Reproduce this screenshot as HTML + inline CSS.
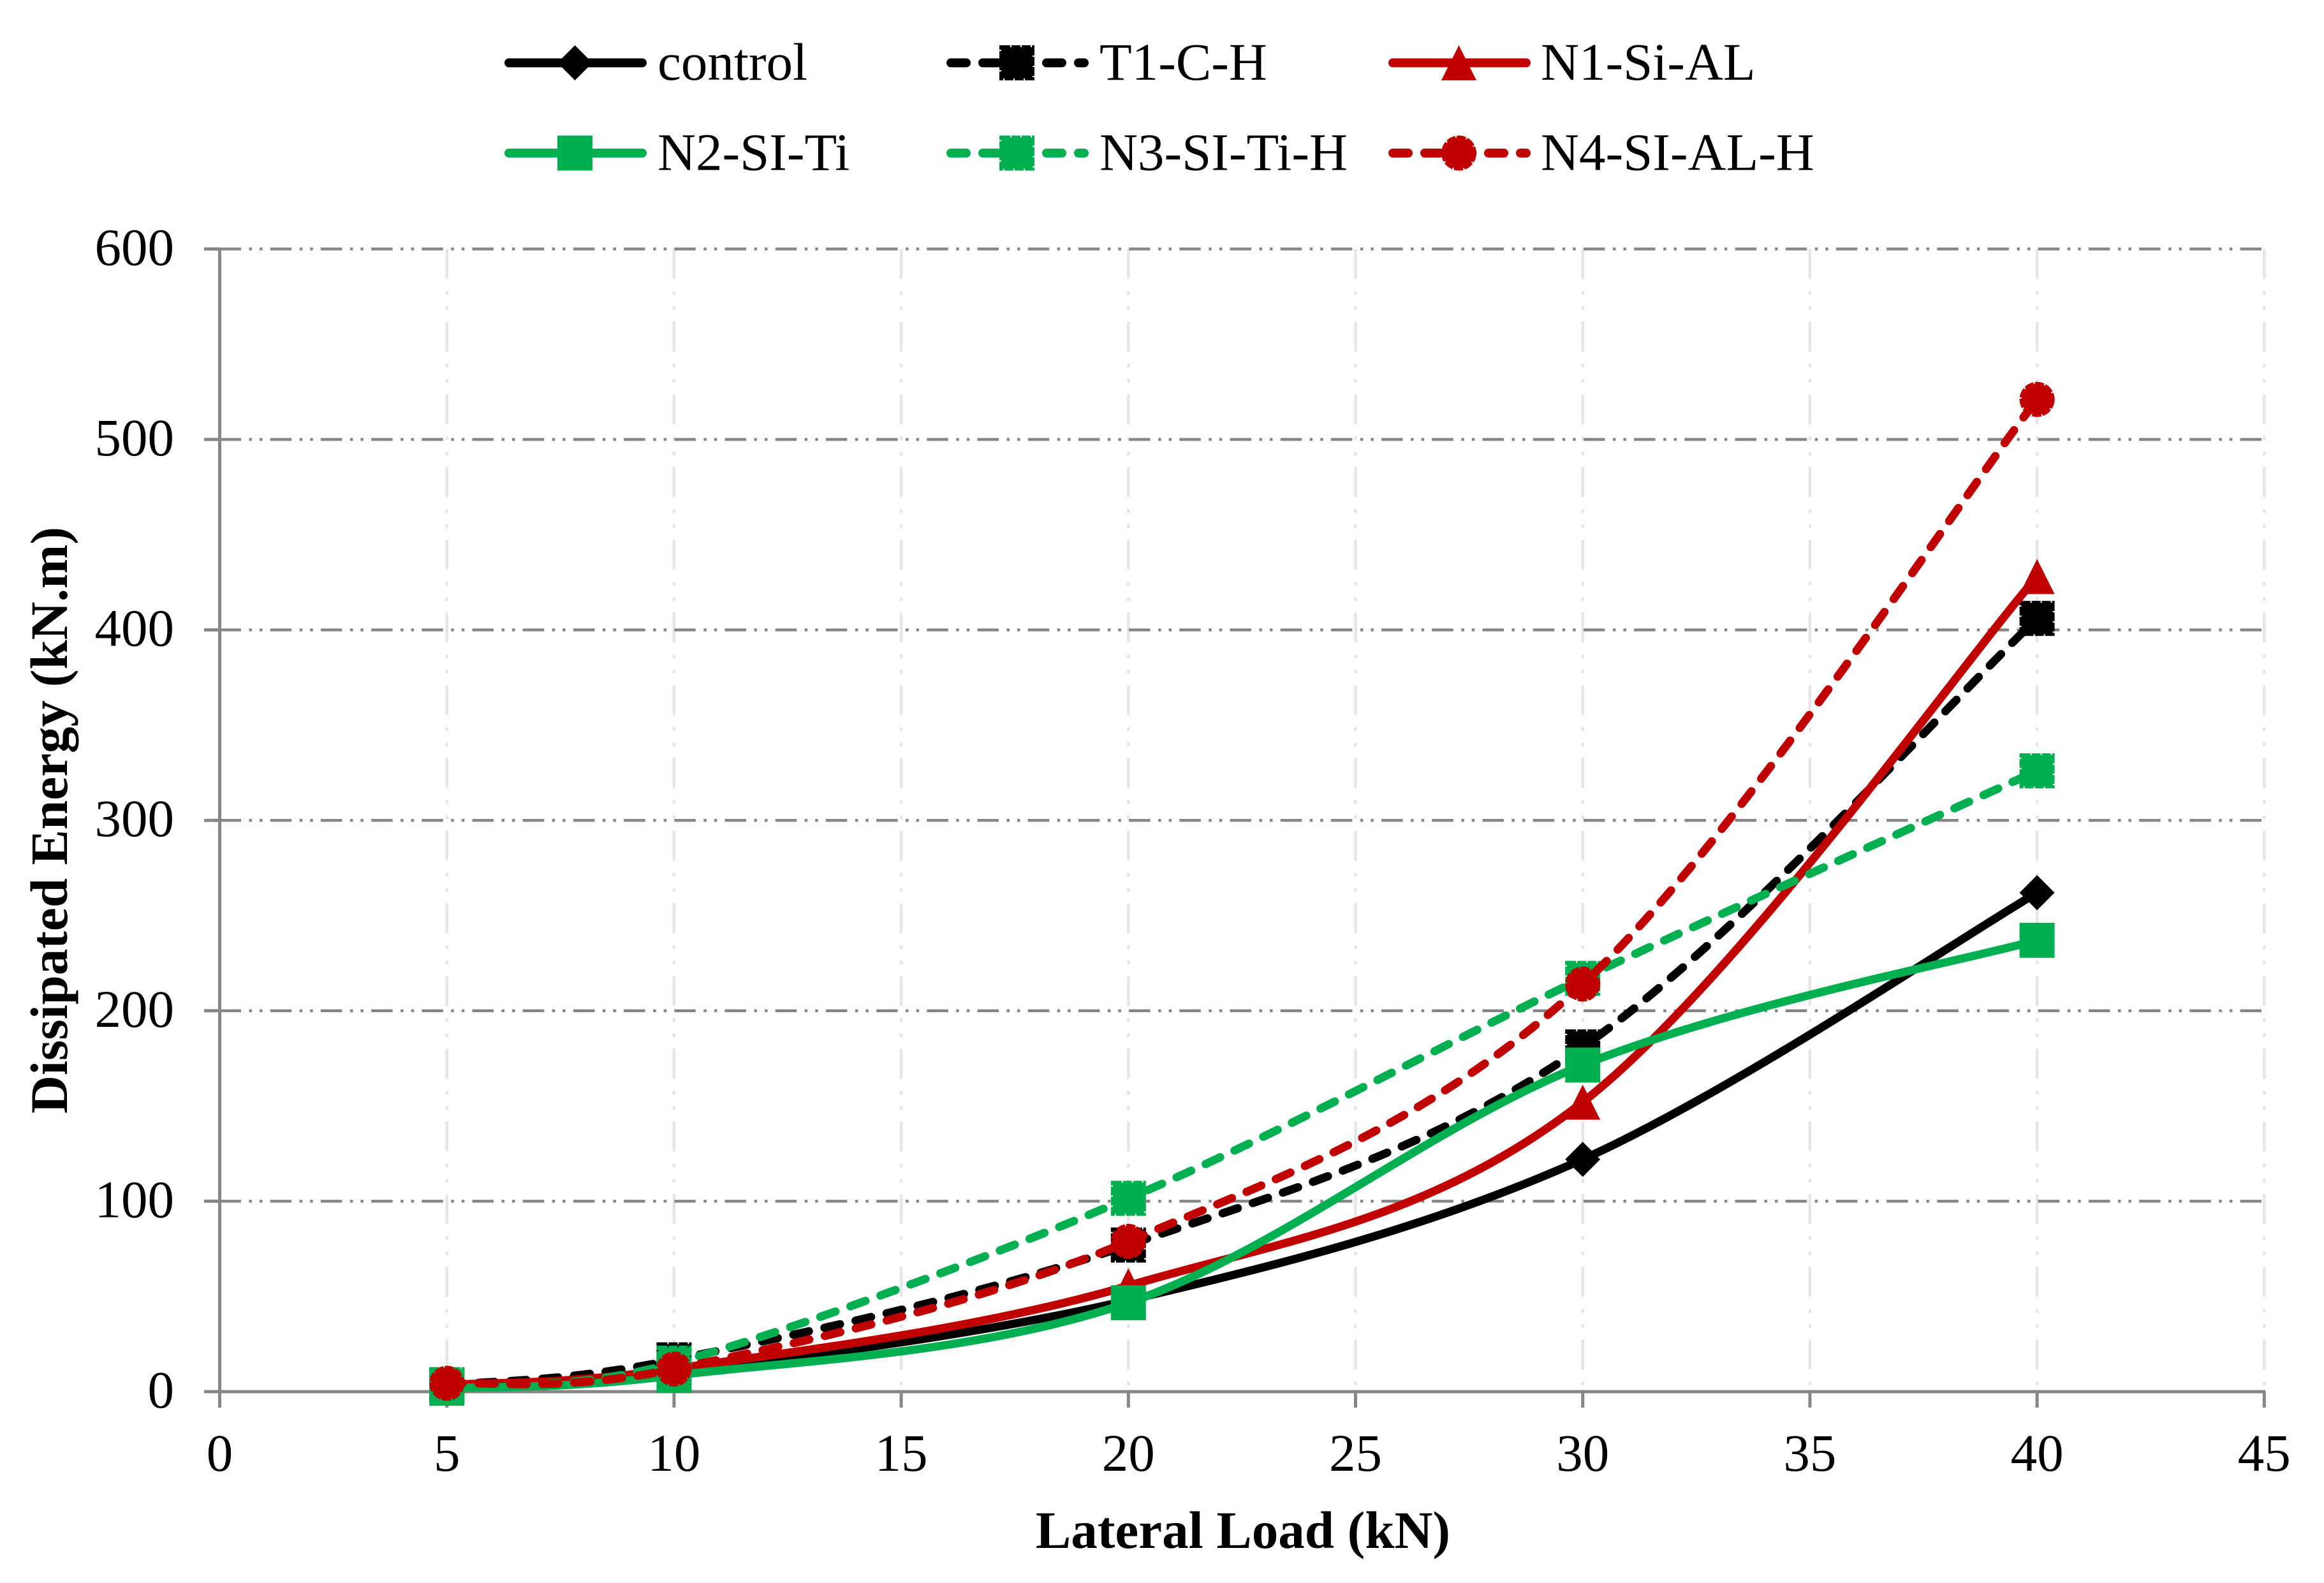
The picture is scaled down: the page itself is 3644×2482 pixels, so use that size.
<!DOCTYPE html>
<html lang="en">
<head>
<meta charset="utf-8">
<title>Dissipated Energy vs Lateral Load</title>
<style>
html,body{margin:0;padding:0;background:#fff;width:3644px;height:2482px;overflow:hidden}
svg{display:block}
text{font-family:"Liberation Serif","Times New Roman",serif;fill:#000}
</style>
</head>
<body>
<svg id="chart" xmlns="http://www.w3.org/2000/svg" width="3644" height="2482" viewBox="0 0 3644 2482">
<rect x="0" y="0" width="3644" height="2482" fill="#ffffff"/>
<g id="grid"></g>
<g id="axes"></g>
<g id="series"></g>
<g id="legend"></g>
<text x="1949" y="2427" text-anchor="middle" font-size="83" font-weight="bold">Lateral Load (kN)</text>
<text transform="translate(105,1286) rotate(-90)" text-anchor="middle" font-size="83" font-weight="bold">Dissipated Energy (kN.m)</text>
</svg>
<script>
const categories = [5, 10, 20, 30, 40];
const controlValues = [3, 10, 48, 122, 262];
const t1Values = [3.5, 16.7, 77, 181, 406];
const n1Values = [3.5, 12, 55.6, 152, 428];
const n2Values = [1.8, 8.5, 46.7, 171.5, 237];
const n3Values = [3.7, 15, 101.5, 217, 326];
const n4Values = [4.4, 11.9, 78.9, 214, 521];
const xTickLabels = [0, 5, 10, 15, 20, 25, 30, 35, 40, 45];
const yTickLabels = [0, 100, 200, 300, 400, 500, 600];
const seriesNames = ['control', 'T1-C-H', 'N1-Si-AL', 'N2-SI-Ti', 'N3-SI-Ti-H', 'N4-SI-AL-H'];

const NS = 'http://www.w3.org/2000/svg';
const X0 = 344.5, XPX = 71.24, Y0 = 2182, YPX = 2.986;
const xScale = v => X0 + v * XPX;
const yScale = v => Y0 - v * YPX;
const seriesValues = [controlValues, t1Values, n1Values, n2Values, n3Values, n4Values];
const seriesColors = ['#000000', '#000000', '#c00000', '#00b050', '#00b050', '#c00000'];
const seriesDashed = [false, true, false, false, true, true];
const seriesMarkers = ['diamond', 'square', 'triangle', 'square', 'square', 'circle'];
const legendLineX = [791, 1484, 2177, 791, 1484, 2177];
const legendTextX = [1031, 1724, 2416, 1031, 1724, 2416];
const legendRowY = [98.5, 98.5, 98.5, 240, 240, 240];
const LINE_W = 13, MARK = 55, AXIS = '#868686';

function el(tag, parent) {
  const e = document.createElementNS(NS, tag);
  parent.appendChild(e);
  return e;
}

function smoothPath(pts) {
  let d = 'M' + pts[0][0].toFixed(1) + ' ' + pts[0][1].toFixed(1);
  for (let i = 0; i < pts.length - 1; i++) {
    const p0 = pts[Math.max(i - 1, 0)], p1 = pts[i], p2 = pts[i + 1], p3 = pts[Math.min(i + 2, pts.length - 1)];
    const c1x = p1[0] + (p2[0] - p0[0]) / 6, c1y = p1[1] + (p2[1] - p0[1]) / 6;
    const c2x = p2[0] - (p3[0] - p1[0]) / 6, c2y = p2[1] - (p3[1] - p1[1]) / 6;
    d += 'C' + c1x.toFixed(1) + ' ' + c1y.toFixed(1) + ' ' + c2x.toFixed(1) + ' ' + c2y.toFixed(1) + ' ' + p2[0].toFixed(1) + ' ' + p2[1].toFixed(1);
  }
  return d;
}

function drawMarker(parent, kind, cx, cy, color, dashedEdge) {
  const inset = dashedEdge ? 3 : 0;
  const h = MARK / 2 - inset;
  let m;
  if (kind === 'circle') {
    m = el('ellipse', parent);
    m.setAttribute('cx', cx);
    m.setAttribute('cy', cy);
    m.setAttribute('rx', h);
    m.setAttribute('ry', h);
  } else if (kind === 'square') {
    m = el('rect', parent);
    m.setAttribute('x', cx - h);
    m.setAttribute('y', cy - h);
    m.setAttribute('width', h * 2);
    m.setAttribute('height', h * 2);
  } else if (kind === 'diamond') {
    m = el('polygon', parent);
    m.setAttribute('points', [[cx, cy - h], [cx + h, cy], [cx, cy + h], [cx - h, cy]].join(' '));
  } else {
    m = el('polygon', parent);
    m.setAttribute('points', [[cx, cy - h], [cx + h, cy + h], [cx - h, cy + h]].join(' '));
  }
  m.setAttribute('fill', color);
  if (dashedEdge) {
    m.setAttribute('stroke', color);
    m.setAttribute('stroke-width', 6);
    m.setAttribute('stroke-dasharray', '14 2');
  }
  
  
  return m;
}

const grid = document.getElementById('grid');
xTickLabels.forEach(v => {
  if (v === 0) return;
  const l = el('line', grid);
  l.setAttribute('x1', xScale(v));
  l.setAttribute('x2', xScale(v));
  l.setAttribute('y1', yScale(600));
  l.setAttribute('y2', yScale(0));
  l.setAttribute('stroke', '#e6e6e6');
  l.setAttribute('stroke-width', 4.5);
  l.setAttribute('stroke-dasharray', '47 19 6 18 6 18');
  
  
});
yTickLabels.forEach(v => {
  if (v === 0) return;
  const l = el('line', grid);
  l.setAttribute('x1', X0);
  l.setAttribute('x2', 3546);
  l.setAttribute('y1', yScale(v));
  l.setAttribute('y2', yScale(v));
  l.setAttribute('stroke', AXIS);
  l.setAttribute('stroke-width', 4.5);
  l.setAttribute('stroke-dasharray', '33.5 12.5 4.5 12 4.5 12.2');
  
  
});

const axes = document.getElementById('axes');
const xAxisLine = el('line', axes);
xAxisLine.setAttribute('x1', 320);
xAxisLine.setAttribute('x2', xScale(45) + 2);
xAxisLine.setAttribute('y1', Y0);
xAxisLine.setAttribute('y2', Y0);
xAxisLine.setAttribute('stroke', AXIS);
xAxisLine.setAttribute('stroke-width', 5);


const yAxisLine = el('line', axes);
yAxisLine.setAttribute('x1', X0);
yAxisLine.setAttribute('x2', X0);
yAxisLine.setAttribute('y1', yScale(600) - 2);
yAxisLine.setAttribute('y2', 2207);
yAxisLine.setAttribute('stroke', AXIS);
yAxisLine.setAttribute('stroke-width', 5);



xTickLabels.forEach(v => {
  const t = el('line', axes);
  t.setAttribute('x1', xScale(v));
  t.setAttribute('x2', xScale(v));
  t.setAttribute('y1', Y0);
  t.setAttribute('y2', 2207);
  t.setAttribute('stroke', AXIS);
  t.setAttribute('stroke-width', 5);
  
  
  const s = el('text', axes);
  s.setAttribute('x', xScale(v));
  s.setAttribute('y', 2306);
  s.setAttribute('text-anchor', 'middle');
  s.setAttribute('font-size', 83);
  
  
  s.textContent = v;
});
yTickLabels.forEach(v => {
  const t = el('line', axes);
  t.setAttribute('x1', 320);
  t.setAttribute('x2', X0);
  t.setAttribute('y1', yScale(v));
  t.setAttribute('y2', yScale(v));
  t.setAttribute('stroke', AXIS);
  t.setAttribute('stroke-width', 5);
  
  
  const s = el('text', axes);
  s.setAttribute('x', 273);
  s.setAttribute('y', yScale(v) + 25);
  s.setAttribute('text-anchor', 'end');
  s.setAttribute('font-size', 83);
  
  
  s.textContent = v;
});

const seriesGroup = document.getElementById('series');
seriesValues.forEach((vals, i) => {
  const g = el('g', seriesGroup);
  
  
  const pts = vals.map((v, k) => [xScale(categories[k]), yScale(v)]);
  const p = el('path', g);
  p.setAttribute('d', smoothPath(pts));
  p.setAttribute('fill', 'none');
  p.setAttribute('stroke', seriesColors[i]);
  p.setAttribute('stroke-width', LINE_W);
  p.setAttribute('stroke-linecap', seriesDashed[i] ? 'round' : 'butt');
  if (seriesDashed[i]) p.setAttribute('stroke-dasharray', '25 25');
  
  
  pts.forEach(pt => drawMarker(g, seriesMarkers[i], pt[0], pt[1], seriesColors[i], seriesDashed[i]));
});

const legend = document.getElementById('legend');
seriesNames.forEach((name, i) => {
  const g = el('g', legend);
  
  
  const ly = legendRowY[i], lx = legendLineX[i];
  const l = el('line', g);
  l.setAttribute('x1', lx + 7);
  l.setAttribute('x2', lx + 216);
  l.setAttribute('y1', ly);
  l.setAttribute('y2', ly);
  l.setAttribute('stroke', seriesColors[i]);
  l.setAttribute('stroke-width', 14);
  l.setAttribute('stroke-linecap', 'round');
  if (seriesDashed[i]) l.setAttribute('stroke-dasharray', '24 26');
  
  
  drawMarker(g, seriesMarkers[i], lx + 110.5, ly, seriesColors[i], seriesDashed[i]);
  const t = el('text', g);
  t.setAttribute('x', legendTextX[i]);
  t.setAttribute('y', ly + 26.5);
  t.setAttribute('font-size', 83);
  
  
  t.textContent = name;
});
</script>
</body>
</html>
